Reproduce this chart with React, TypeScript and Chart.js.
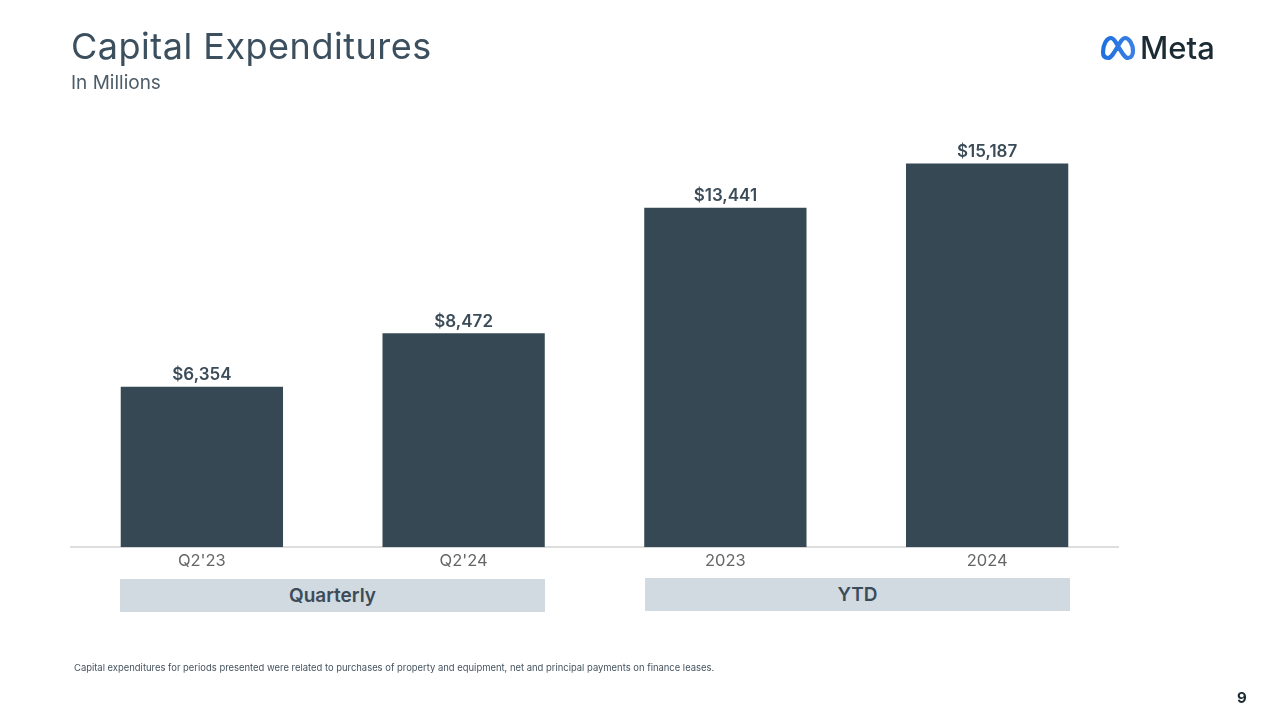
import React, { useEffect, useRef } from "react";
import { Chart, registerables } from "chart.js";

Chart.register(...registerables);

const categories = ["Q2'23", "Q2'24", "2023", "2024"];
const capex = [6354, 8472, 13441, 15187];
const footnote =
  "Capital expenditures for periods presented were related to purchases of property and equipment, net and principal payments on finance leases.";

const FONT = "Inter, 'Noto Sans', sans-serif";
const DARK = "#354854";

// writes $x,xxx above each bar
const barLabels = {
  id: "barLabels",
  afterDatasetsDraw(chart: Chart) {
    const { ctx } = chart;
    const meta = chart.getDatasetMeta(0);
    ctx.save();
    ctx.font = `600 17px ${FONT}`;
    ctx.fillStyle = "#3b4c58";
    ctx.textAlign = "center";
    ctx.textBaseline = "bottom";
    meta.data.forEach((bar: any, i: number) => {
      ctx.fillText("$" + capex[i].toLocaleString("en-US"), bar.x, bar.y - 3);
    });
    ctx.restore();
  },
};

const text = (style: React.CSSProperties): React.CSSProperties => ({
  position: "absolute",
  fontFamily: FONT,
  whiteSpace: "nowrap",
  lineHeight: 1,
  ...style,
});

const band = (left: number, top: number, width: number): React.CSSProperties =>
  text({
    left,
    top,
    width,
    height: 33,
    lineHeight: "34px",
    background: "#d1d9e1",
    color: "#3b4c58",
    fontSize: 19,
    fontWeight: 600,
    textAlign: "center",
  });

const App: React.FC = () => {
  const canvasRef = useRef<HTMLCanvasElement | null>(null);

  useEffect(() => {
    document.body.style.margin = "0";
    document.body.style.background = "#ffffff";
    if (!canvasRef.current) return;
    const chart = new Chart(canvasRef.current, {
      type: "bar",
      data: {
        labels: categories,
        datasets: [
          {
            label: "Capital Expenditures",
            data: capex,
            backgroundColor: DARK,
            barPercentage: 1,
            categoryPercentage: 0.62,
          },
        ],
      },
      options: {
        responsive: false,
        animation: false,
        layout: { padding: { left: 71, right: 162, top: 143, bottom: 149 } },
        plugins: { legend: { display: false }, tooltip: { enabled: false } },
        scales: {
          x: {
            grid: { display: false, drawTicks: false },
            border: { color: "#dedede", width: 2 },
            ticks: {
              color: "#666666",
              padding: 4,
              font: { family: FONT, size: 16.5, weight: 400 },
            },
          },
          y: { display: false, min: 0, max: 16000 },
        },
      },
      plugins: [barLabels],
    });
    return () => {
      chart.destroy();
    };
  }, []);

  return (
    <div style={{ position: "relative", width: 1280, height: 724, overflow: "hidden", background: "#fff" }}>
      <canvas ref={canvasRef} width={1280} height={724} style={{ position: "absolute", left: 0, top: 0 }} />
      <div style={text({ left: 71, top: 28, fontSize: 36, color: "#3b4f5e", letterSpacing: 0.5 })}>
        Capital Expenditures
      </div>
      <div style={text({ left: 71, top: 73, fontSize: 19, color: "#4c5c68" })}>In Millions</div>
      <div style={band(120, 579, 425)}>Quarterly</div>
      <div style={band(645, 578, 425)}>YTD</div>
      <div style={text({ left: 74, top: 663, fontSize: 9.43, color: "#44535e" })}>{footnote}</div>
      <div style={text({ left: 1237, top: 690, fontSize: 15, fontWeight: 700, color: "#1c2b33" })}>9</div>
      <svg style={{ position: "absolute", left: 1098, top: 32 }} width={42} height={32} viewBox="0 0 42 32">
        <defs>
          <linearGradient id="metaMark" x1="0" y1="0" x2="1" y2="0">
            <stop offset="0" stopColor="#1f6fe0" />
            <stop offset="1" stopColor="#3a80e4" />
          </linearGradient>
        </defs>
        <path
          d="M5 20 C5 12 9 6 13 6 C18 6 24 26 30 26 C33 26 35 23 35 19 C35 12 31 6 27 6 C22 6 16 26 10 26 C7 26 5 24 5 20 Z"
          fill="none"
          stroke="url(#metaMark)"
          strokeWidth={4.2}
          strokeLinejoin="round"
        />
      </svg>
      <div style={text({ left: 1140, top: 32, fontSize: 31, fontWeight: 500, color: "#1c2b33" })}>Meta</div>
    </div>
  );
};

export default App;
